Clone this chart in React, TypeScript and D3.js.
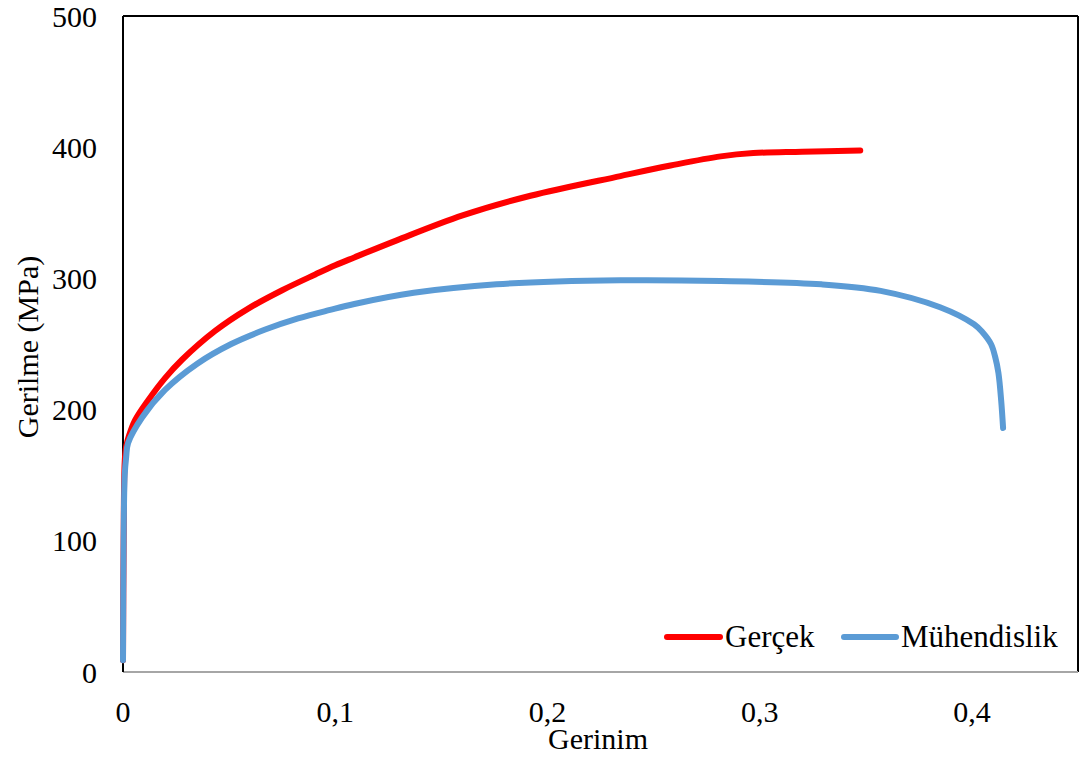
import React from "react";
import * as d3 from "d3";

const W = 1085;
const H = 760;

const xTicks = [0, 0.1, 0.2, 0.3, 0.4];
const xTickLabels = ["0", "0,1", "0,2", "0,3", "0,4"];
const yTicks = [0, 100, 200, 300, 400, 500];
const yTickLabels = ["0", "100", "200", "300", "400", "500"];

const seriesNames = ["Gerçek", "Mühendislik"];
const seriesColors = ["#FF0000", "#5B9BD5"];

const gercekStrain = [0, 0.0003, 0.0008, 0.0015, 0.003, 0.0057, 0.0118, 0.0198, 0.0278, 0.0434, 0.059, 0.075, 0.0906, 0.1, 0.109, 0.129, 0.16, 0.192, 0.2344, 0.258, 0.2816, 0.297, 0.32, 0.3474];
const gercekStress = [9, 100, 160, 172, 181, 192, 207, 224, 238, 260, 277, 291, 303, 310, 316, 329, 348, 363, 378, 386, 393, 395.5, 396.5, 397.5];

const muhStrain = [0, 0.0003, 0.0008, 0.0015, 0.0024, 0.009, 0.0198, 0.035, 0.051, 0.067, 0.0825, 0.0976, 0.109, 0.137, 0.176, 0.2344, 0.2816, 0.329, 0.357, 0.385, 0.401, 0.405, 0.409, 0.411, 0.4125, 0.4138, 0.4147];
const muhStress = [9, 100, 150, 164, 174.5, 194, 215, 235, 250, 261, 269.5, 276, 280.5, 289, 295.5, 298.5, 298, 295.5, 290.5, 278, 265, 259, 250, 240, 228, 207, 186];

export default function App() {
  const left = 123;
  const right = 1078;
  const top = 16;
  const bottom = 672;

  const x = d3.scaleLinear().domain([0, 0.45]).range([left, right]);
  const y = d3.scaleLinear().domain([0, 500]).range([bottom, top]);

  const line = d3
    .line<[number, number]>()
    .x((d) => x(d[0]))
    .y((d) => y(d[1]))
    .curve(d3.curveCatmullRom.alpha(0.5));

  const redData: [number, number][] = gercekStrain.map((s, i) => [s, gercekStress[i]]);
  const blueData: [number, number][] = muhStrain.map((s, i) => [s, muhStress[i]]);

  const font = "'Liberation Serif', 'Times New Roman', serif";

  return (
    <svg
      width={W}
      height={H}
      style={{ position: "absolute", left: 0, top: 0, background: "#fff" }}
      fontFamily={font}
    >
      <rect x={0} y={0} width={W} height={H} fill="#fff" />
      {/* frame */}
      <line x1={left} y1={top} x2={right} y2={top} stroke="#000" strokeWidth={2} />
      <line x1={right} y1={top} x2={right} y2={bottom} stroke="#000" strokeWidth={2} />
      <line x1={left} y1={bottom} x2={right} y2={bottom} stroke="#A6A6A6" strokeWidth={2} />
      <line x1={left} y1={top} x2={left} y2={bottom} stroke="#000" strokeWidth={2} />

      {/* y ticks */}
      {yTicks.map((t, i) => (
        <text key={"y" + i} x={97} y={y(t)} dy="0.35em" textAnchor="end" fontSize={30} fill="#000">
          {yTickLabels[i]}
        </text>
      ))}
      {/* x ticks */}
      {xTicks.map((t, i) => (
        <text key={"x" + i} x={x(t)} y={722} textAnchor="middle" fontSize={30} fill="#000">
          {xTickLabels[i]}
        </text>
      ))}

      {/* series */}
      <path d={line(redData) || ""} fill="none" stroke={seriesColors[0]} strokeWidth={6} strokeLinecap="round" strokeLinejoin="round" />
      <path d={line(blueData) || ""} fill="none" stroke={seriesColors[1]} strokeWidth={6} strokeLinecap="round" strokeLinejoin="round" />

      {/* axis titles */}
      <text x={598} y={749} textAnchor="middle" fontSize={30} fill="#000">
        Gerinim
      </text>
      <text
        transform={`translate(38, 347) rotate(-90)`}
        textAnchor="middle"
        fontSize={30}
        fill="#000"
      >
        Gerilme (MPa)
      </text>

      {/* legend */}
      <line x1={667} y1={637} x2={720} y2={637} stroke={seriesColors[0]} strokeWidth={6} strokeLinecap="round" />
      <text x={725} y={647} fontSize={31} fill="#000">
        {seriesNames[0]}
      </text>
      <line x1={844} y1={637} x2={896} y2={637} stroke={seriesColors[1]} strokeWidth={6} strokeLinecap="round" />
      <text x={901} y={647} fontSize={31} fill="#000">
        {seriesNames[1]}
      </text>
    </svg>
  );
}
